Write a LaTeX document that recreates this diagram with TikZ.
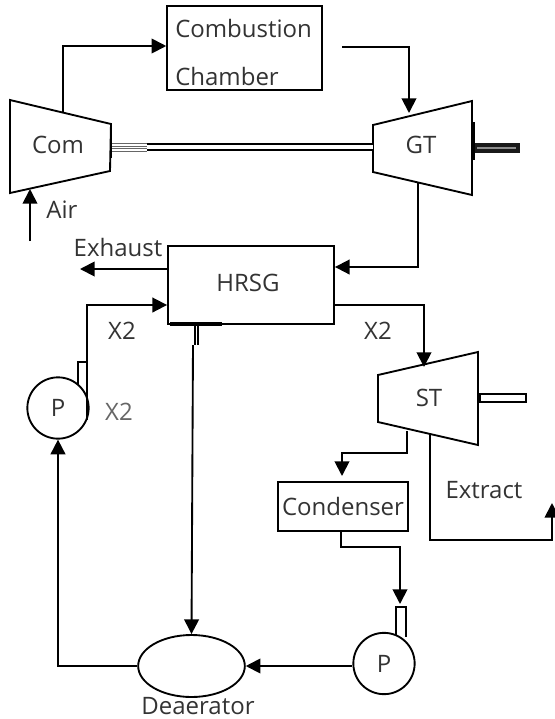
\documentclass[tikz,border=0pt]{standalone}
\usepackage{fontspec}
\setmainfont{Open Sans}
\usetikzlibrary{arrows.meta,shapes.geometric}

\begin{document}
\begin{tikzpicture}[
    x=0.75pt, y=-0.75pt,
    >={Triangle[length=11pt,width=11pt]},
    every node/.style={font=\fontsize{18}{20}\selectfont, text=black!80},
    part/.style={draw=black, line width=1.4pt},
    box/.style={part, rectangle, inner sep=0pt},
    pump/.style={part, circle, inner sep=0pt, minimum size=46pt},
    flow/.style={line width=1.4pt, ->},
    shaft/.style={line width=1.3pt, double=white, double distance=3pt},
]
\useasboundingbox (0,0) rectangle (555,719);

% Turbines and compressor
\draw[part] (10,100) -- (111,124) -- (110,171) -- (10,193) -- cycle;
\draw[part] (373,125) -- (472,101) -- (472,195) -- (373,172) -- cycle;
\draw[part] (378,375) -- (478,352) -- (478,445) -- (378,422) -- cycle;
\node (com) at (58,145) {Com};
\node (gt) at (421,145) {GT};
\node (st) at (429,398) {ST};

% Boxes
\node[box, minimum width=116pt, minimum height=63pt] (cc) at (244.5,48) {};
\node[box, minimum width=124.5pt, minimum height=58.5pt] (hrsg) at (251,285) {};
\node[box, minimum width=97pt, minimum height=36.5pt] (cond) at (343,506.5) {Condenser};
\node[part, ellipse, inner sep=0pt, minimum width=80pt, minimum height=46.5pt] (dea) at (191.5,666) {};
\node[pump] (pa) at (58,408) {P};
\node[pump] (pb) at (384,663.5) {P};

% Labels
\node[anchor=west, inner sep=0pt] (cctop) at (175,28) {Combustion};
\node[anchor=west, inner sep=0pt] (ccbot) at (175,76) {Chamber};
\node (hrsgtext) at (248,283) {HRSG};
\node (deatext) at (198,706) {Deaerator};
\node (air) at (62,210) {Air};
\node (exhaust) at (118,247) {Exhaust};
\node (xa) at (122,331) {X2};
\node (xb) at (378,331) {X2};
\node[text=black!60] (xc) at (119,412) {X2};
\node (extract) at (484,490) {Extract};

% Connector ends
\coordinate (comout) at (63,112);
\coordinate (ccin) at (63,46);
\coordinate (ccout) at (342,47);
\coordinate (gtin) at (409,113);
\coordinate (gtout) at (418,183);
\coordinate (hrsgin) at (418,267);
\coordinate (stin) at (424,367);
\coordinate (stcond) at (407,431);
\coordinate (condin) at (342,476);
\coordinate (stext) at (430,433);
\coordinate (extend) at (552,503);
\coordinate (airin) at (30,241);
\coordinate (airend) at (30,189);
\coordinate (exend) at (80,269);
\coordinate (paout) at (87,362);
\coordinate (pbin) at (400,604);
\coordinate (hrsgdown) at (193,345);
\coordinate (comshaft) at (147,147);
\coordinate (comface) at (111,147);
\coordinate (gtface) at (373,147);

% Flows
\draw[flow] (comout) -- (ccin) -- (cc.west |- ccin);
\draw[flow] (ccout) -| (gtin);
\draw[flow] (gtout) -- (hrsgin) -- (hrsg.east |- hrsgin);
\draw[flow] (airin) -- (airend);
\draw[flow] (hrsg.west |- exend) -- (exend);
\draw[flow] (paout) -- (87,305) -- (hrsg.west |- 0,305);
\draw[flow] (hrsg.east |- 0,305) -| (stin);
\draw[flow] (stcond) |- (342,453) -- (condin);
\draw[flow] (stext) |- (552,540) -- (extend);
\draw[flow] (cond.south -| 341,0) |- (400,547) -- (pbin);
\draw[flow] (hrsgdown) -- (dea.north);
\draw[flow] (dea.west) -- (58,666) -- (pa.south);
\draw[flow] (pb.west |- dea.east) -- (dea.east);

% Pump stubs
\draw[line width=1pt] (78,385) -- (78,362) -- (paout) -- (87,420);
\draw[line width=1pt] (396,635) -- (396,607) -- (406,607) -- (406,637);
\draw[line width=1pt] (195,324) -- (195,345) (198,324) -- (198,345);

% Shafts
\draw[shaft] (comshaft) -- (gtface);
\draw[line width=0.7pt, black!60] (comface) ++(0,-3.5) -- ++(36,0) ++(-36,2.5) -- ++(36,0)
    ++(-36,2.5) -- ++(36,0) ++(-36,2.5) -- ++(36,0);
\filldraw[fill=black!45, draw=black!90, line width=2.6pt] (475,145) rectangle (518,151);
\draw[line width=0.9pt, fill=white] (480,394) rectangle (526,402);

% Heavier edges
\draw[line width=2.6pt] (473,122) -- (473,160);
\draw[line width=2.2pt] (111,124) -- (111,158);
\draw[line width=2.4pt] (170,324) -- (222,324);
\end{tikzpicture}
\end{document}
